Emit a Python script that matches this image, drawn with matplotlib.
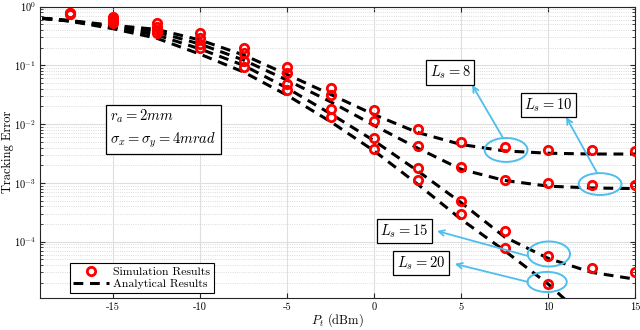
import numpy as np
import matplotlib
matplotlib.use("Agg")
import matplotlib.pyplot as plt
from matplotlib.patches import Ellipse

plt.rcParams["font.family"] = "cmr10"
plt.rcParams["mathtext.fontset"] = "cm"
plt.rcParams["axes.formatter.use_mathtext"] = True

# simulation points (P_t in dBm)
x_sim = [-17.5, -15, -12.5, -10, -7.5, -5, -2.5, 0, 2.5, 5, 7.5, 10, 12.5, 15]
sim_l8 = [0.78, 0.67, 0.52, 0.35, 0.194, 0.094, 0.042, 0.0173, 0.0082, 0.0050,
          0.0041, 0.0037, 0.0037, 0.0035]
sim_l10 = [0.77, 0.62, 0.45, 0.29, 0.16, 0.073, 0.031, 0.0112, 0.0042, 0.0019,
           0.00114, 0.00098, 0.00093, 0.00093]
sim_l15 = [0.76, 0.57, 0.40, 0.235, 0.12, 0.049, 0.018, 0.0058, 0.00176, 0.00049,
           0.000150, 5.8e-5, 3.6e-5, 3.0e-5]
sim_l20 = [0.75, 0.53, 0.35, 0.195, 0.094, 0.038, 0.013, 0.0038, 0.0011, 0.00029,
           7.7e-5, 1.9e-5, np.nan, np.nan]

# analytical curves
x_ana = [-20, -17.5, -15, -12.5, -10, -7.5, -5, -2.5, 0, 2.5, 5, 7.5, 10, 12.5, 15]
ana_l8 = [0.67, 0.58, 0.48, 0.41, 0.27, 0.15, 0.070, 0.032, 0.0145, 0.0072,
          0.0045, 0.0035, 0.0032, 0.0031, 0.0031]
ana_l10 = [0.67, 0.575, 0.46, 0.37, 0.23, 0.123, 0.056, 0.024, 0.0095, 0.0039,
           0.0017, 0.0011, 0.00088, 0.00082, 0.00080]
ana_l15 = [0.67, 0.57, 0.44, 0.33, 0.19, 0.10, 0.041, 0.015, 0.0052, 0.0016,
           0.00046, 0.00012, 5.2e-5, 3.0e-5, 2.3e-5]
ana_l20 = [0.67, 0.565, 0.42, 0.29, 0.155, 0.077, 0.031, 0.011, 0.0035, 0.00095,
           0.00024, 7.0e-5, 1.9e-5, 4e-6, 1e-6]

x_ticks = [-15, -10, -5, 0, 5, 10, 15]
x_tick_labels = ["-15", "-10", "-5", "0", "5", "10", "15"]

# annotation labels, (text centre, arrow tail, arrow head, ellipse centre, ellipse size) in axes fraction
labels = ["$L_s = 8$", "$L_s = 10$", "$L_s = 15$", "$L_s = 20$"]
label_pos = [(0.689, 0.775), (0.854, 0.662), (0.612, 0.230), (0.640, 0.120)]
arrow_tail = [(0.778, 0.549), (0.936, 0.429), (0.820, 0.144), (0.820, 0.055)]
arrow_head = [(0.726, 0.731), (0.884, 0.621), (0.667, 0.230), (0.697, 0.117)]
ell_pos = [(0.783, 0.508), (0.941, 0.391), (0.855, 0.151), (0.852, 0.055)]
ell_size = [(0.072, 0.082), (0.072, 0.075), (0.071, 0.086), (0.066, 0.069)]

blue = "#4DBEEE"

fig = plt.figure(figsize=(6.4, 3.3), dpi=100)
ax = fig.add_axes([0.0625, 0.097, 0.93, 0.883])

for ana in [ana_l8, ana_l10, ana_l15, ana_l20]:
    ax.plot(x_ana, ana, color="black", lw=2.2, linestyle=(0, (3.2, 2.2)),
            label="Analytical Results" if ana is ana_l8 else None, zorder=3)
for sim in [sim_l8, sim_l10, sim_l15, sim_l20]:
    ax.plot(x_sim, sim, linestyle="none", marker="o", ms=6.0, mew=2.0,
            mec="red", mfc="none",
            label="Simulation Results" if sim is sim_l8 else None, zorder=4)

ax.set_yscale("log")
ax.set_xlim(-19.2, 15)
ax.set_ylim(1.1e-5, 1)
ax.set_xticks(x_ticks)
ax.set_xticklabels(x_tick_labels)
ax.tick_params(which="both", direction="in", top=True, right=True, labelsize=7.5,
               color="#262626", pad=3)
ax.tick_params(which="major", length=3.5)
ax.tick_params(which="minor", length=2)
ax.grid(True, which="major", color="#dedede", lw=0.8)
ax.grid(True, which="minor", axis="y", color="#d0d0d0", lw=0.6, linestyle=":")
ax.set_axisbelow(True)
for s in ax.spines.values():
    s.set_color("#262626")
    s.set_linewidth(0.8)

ax.set_xlabel("$P_t$ (dBm)", fontsize=9, labelpad=0)
ax.set_ylabel("Tracking Error", fontsize=9, labelpad=0)

handles, names = ax.get_legend_handles_labels()
order = [1, 0]
leg = ax.legend([handles[i] for i in order], [names[i] for i in order],
                loc="lower left", bbox_to_anchor=(0.05, 0.017), fontsize=8.5,
                fancybox=False, edgecolor="black", framealpha=1,
                borderpad=0.3, labelspacing=0.2, handlelength=3.0,
                handletextpad=0.4, borderaxespad=0)
leg.get_frame().set_linewidth(0.8)

ax.text(0.118, 0.581, "$r_a = 2mm$\n$\\sigma_x = \\sigma_y = 4mrad$",
        transform=ax.transAxes, fontsize=10.5, va="center", ha="left",
        linespacing=1.4,
        bbox=dict(boxstyle="square,pad=0.3", fc="white", ec="black", lw=0.9))

for lab, lp, tail, head, ep, es in zip(labels, label_pos, arrow_tail,
                                       arrow_head, ell_pos, ell_size):
    ax.add_patch(Ellipse(ep, es[0], es[1], transform=ax.transAxes, fill=False,
                         ec=blue, lw=1.4, zorder=5))
    ax.annotate("", xy=head, xytext=tail, xycoords="axes fraction",
                textcoords="axes fraction",
                arrowprops=dict(arrowstyle="->", color=blue, lw=1.3,
                                shrinkA=0, shrinkB=0), zorder=5)
    ax.text(lp[0], lp[1], lab, transform=ax.transAxes, fontsize=10.5,
            ha="center", va="center", zorder=6,
            bbox=dict(boxstyle="square,pad=0.25", fc="white", ec="black", lw=0.9))

fig.savefig("out.png", dpi=100)
